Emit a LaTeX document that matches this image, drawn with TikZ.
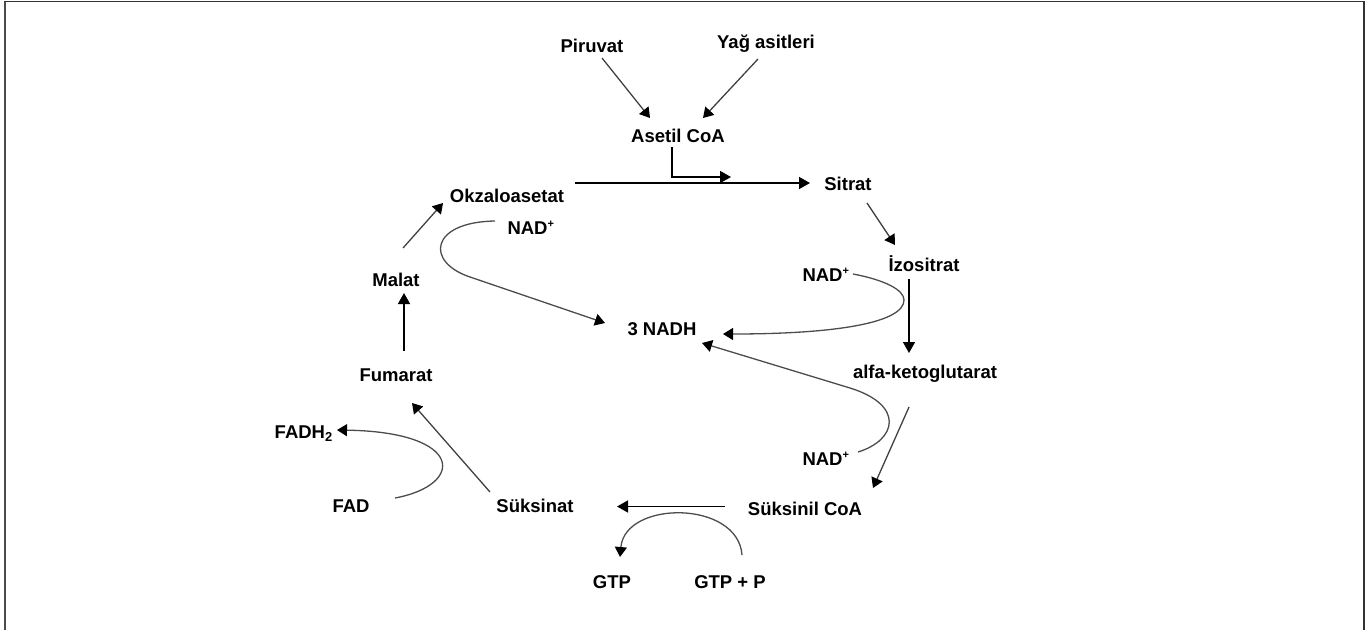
\documentclass[tikz,border=0pt]{standalone}
\usepackage{fontspec}
\setmainfont{Liberation Sans}
\usetikzlibrary{arrows.meta}
\newcommand{\plussup}{\textsuperscript{\fontsize{11}{11}\selectfont+}}
\begin{document}
\begin{tikzpicture}[x=1pt,y=-1pt,
  lbl/.style={inner sep=0pt,anchor=base,font=\fontsize{18.5}{22}\selectfont\bfseries},
  arr/.style={draw=black!75,line width=1.3pt,-{Triangle[width=12pt,length=10pt,color=black]}},
  mainarr/.style={draw=black,line width=1.5pt,-{Triangle[width=12pt,length=11pt,color=black]}},
  curv/.style={draw=black!70,line width=1.3pt,-{Triangle[width=12pt,length=10pt,color=black]}}]
\useasboundingbox (0,0) rectangle (1367,630);
% frame
\draw[black!70,line width=2.5pt] (5,630) -- (5,1.5);
\draw[black!80,line width=1.5pt] (4,1.5) -- (1364,1.5) -- (1364,630);
% labels
\node[lbl] (pir) at (592,52) {Piruvat};
\node[lbl] (yag) at (766,48) {Yağ asitleri};
\node[lbl] (ase) at (678,142) {Asetil CoA};
\node[lbl] (okz) at (507,202) {Okzaloasetat};
\node[lbl] (nad1) at (531,234) {NAD\plussup};
\node[lbl] (sit) at (848,190) {Sitrat};
\node[lbl] (izo) at (924,271) {İzositrat};
\node[lbl] (nad2) at (826,281) {NAD\plussup};
\node[lbl] (nadh) at (662,335) {3 NADH};
\node[lbl] (alfa) at (925,378) {alfa-ketoglutarat};
\node[lbl] (nad3) at (826,465) {NAD\plussup};
\node[lbl] (suk) at (805,515) {Süksinil CoA};
\node[lbl] (sks) at (535,512) {Süksinat};
\node[lbl] (fad) at (351,512) {FAD};
\node[lbl,anchor=base east] (fadh) at (333,438) {FADH\textsubscript{2}};
\node[lbl] (fum) at (396,381) {Fumarat};
\node[lbl] (mal) at (396,286) {Malat};
\node[lbl] (gtp) at (612,588) {GTP};
\node[lbl] (gtpp) at (730,588) {GTP + P};
% connectors
\draw[arr] ([shift={(10,6)}]pir.base) -- ([shift={(-28,-24)}]ase.base);
\draw[arr] ([shift={(-8,11)}]yag.base) -- ([shift={(25,-24)}]ase.base);
\draw[mainarr] ([shift={(-6,5)}]ase.base) |- ([shift={(53,35)}]ase.base);
\draw[mainarr] ([shift={(68,-19)}]okz.base) -- ([shift={(-38,-7)}]sit.base);
\draw[arr] ([shift={(19,13)}]sit.base) -- ([shift={(-29,-26)}]izo.base);
\draw[mainarr] ([shift={(-15,8)}]izo.base) -- ([shift={(-16,-25)}]alfa.base);
\draw[curv] ([shift={(27,-7)}]nad2.base) .. controls (885,280) and (904,290) .. (904,300)
   .. controls (904,322) and (840,334) .. ([shift={(61,-1)}]nadh.base);
\draw[curv] ([shift={(-36,-13)}]nad1.base) .. controls (430,222) and (425,262) .. (470,277)
   -- ([shift={(-57,-12)}]nadh.base);
\draw[curv] ([shift={(32,-13)}]nad3.base) .. controls (897,440) and (905,405) .. (850,388)
   -- ([shift={(40,8)}]nadh.base);
\draw[arr] ([shift={(-16,29)}]alfa.base) -- ([shift={(68,-27)}]suk.base);
\draw[mainarr] ([shift={(-80,-8.5)}]suk.base) -- ([shift={(82,-5.5)}]sks.base);
\draw[curv] ([shift={(12,-33)}]gtpp.base) .. controls (738,500) and (625,500) .. ([shift={(8,-31)}]gtp.base);
\draw[curv] ([shift={(44,-14)}]fad.base) .. controls (465,485) and (465,432) .. ([shift={(4,-8)}]fadh.base east);
\draw[arr] ([shift={(-45,-20)}]sks.base) -- ([shift={(16,22)}]fum.base);
\draw[arr] ([shift={(7,-38)}]mal.base) -- ([shift={(-64,1)}]okz.base);
\draw[mainarr] ([shift={(8,-30)}]fum.base) -- ([shift={(8,7)}]mal.base);
\end{tikzpicture}
\end{document}
